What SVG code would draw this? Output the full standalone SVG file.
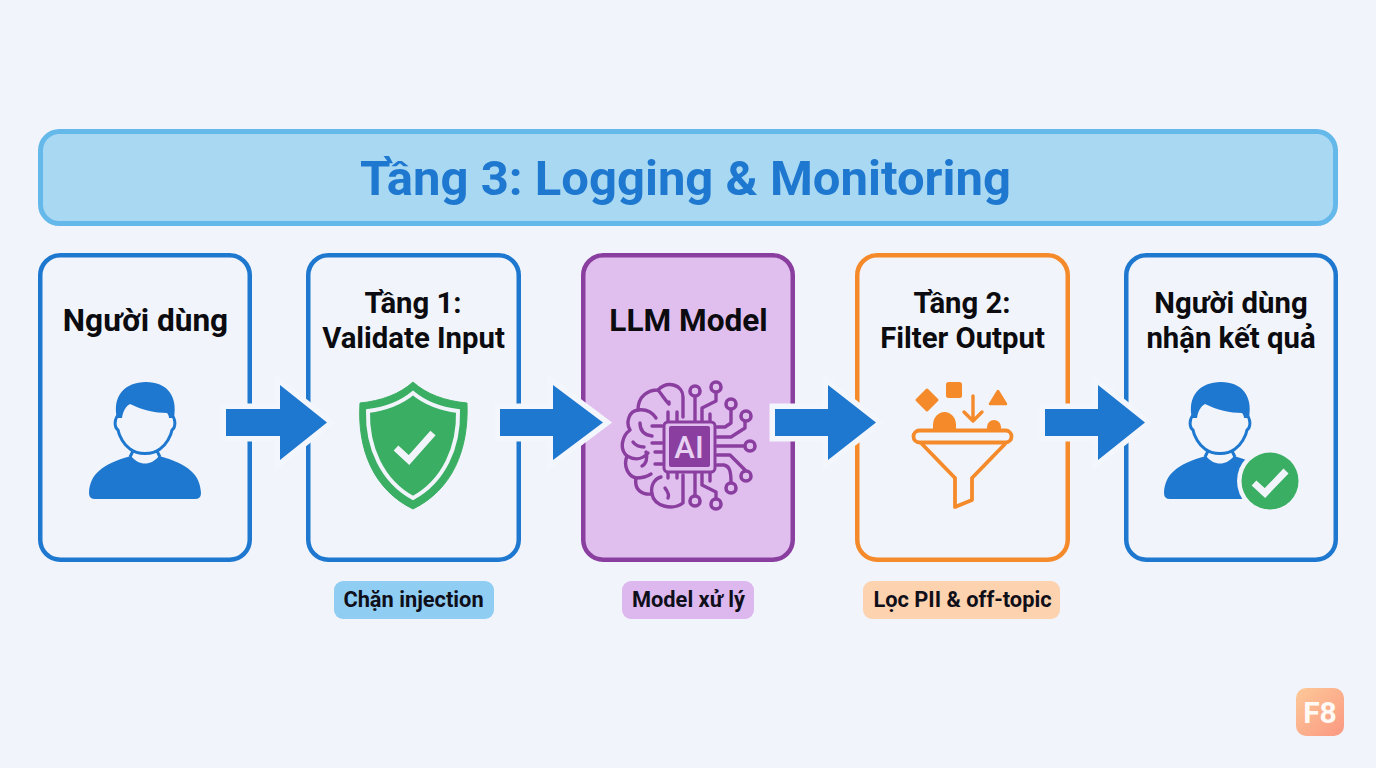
<svg xmlns="http://www.w3.org/2000/svg" width="1376" height="768" viewBox="0 0 1376 768">
<style>
text{font-family:Roboto,"Liberation Sans","Noto Sans",sans-serif;font-weight:700;text-anchor:middle}
.t{font-size:29.300px;fill:#0b0b10}
.tb{font-size:31.600px;fill:#0b0b10}
.p{font-size:21.800px;fill:#0f0f1a}
.card{stroke-width:4.5}
.blue{fill:#f1f5fb;stroke:#1f78cf}
.arrow{fill:#1f78cf;stroke:#f3f6fc;stroke-width:11;paint-order:stroke;stroke-linejoin:miter}
.c{fill:none;stroke:#8a3fa0;stroke-width:3.400;stroke-linecap:round;stroke-linejoin:round}
.n{fill:#e0bfee;stroke:#8a3fa0;stroke-width:3.600}
.o{fill:none;stroke:#f58a2b;stroke-width:3.800;stroke-linejoin:round;stroke-linecap:round}
.of{fill:#f58a2b}
</style>
<defs>
<linearGradient id="badge" x1="0" y1="0" x2="1" y2="1"><stop offset="0" stop-color="#fdc998"/><stop offset="1" stop-color="#fb9882"/></linearGradient>
<g id="person">
<path d="M89 493C90 474 102 464 131 456C135 461 140 463.500 145 463.500C150 463.500 155 461 159 456C188 464 200 474 201 493Q201 499 195 499H95Q89 499 89 493Z" fill="#1f78cf"/>
<path d="M119 414C114 419 114 427 118 430C119 436 124 445 130 449C135 453 140 453.500 145 453.500C150 453.500 155 453 160 449C166 445 171 436 172 430C176 427 176 419 171 414" fill="#f1f5fb" stroke="#1f78cf" stroke-width="3"/>
<path d="M117 418C112 396 125 382 146 382C167 382 178 396 174 418L169 418C169 416 168 414 167 413C155 413 142 410 130 404C126 406 123 411 122 418Z" fill="#1f78cf"/>
<path d="M133 451L130 457M157 451L160 457" stroke="#1f78cf" stroke-width="3" fill="none"/>
</g>
</defs>
<rect width="1376" height="768" fill="#f1f5fb"/>

<g id="banner">
<rect x="40.500" y="131.500" width="1295" height="92" rx="19" fill="#a8d8f2" stroke="#64b8ea" stroke-width="5"/>
<text x="685.500" y="195" style="font-size:49px" fill="#1f78cf">Tầng 3: Logging &amp; Monitoring</text>
</g>

<g id="node-user">
<rect class="card blue" x="40.250" y="255.250" width="209.500" height="304.500" rx="20"/>
<text class="tb" x="145.500" y="331">Người dùng</text>
<use href="#person"/>
</g>

<g id="node-validate">
<rect class="card blue" x="308.250" y="255.250" width="210.500" height="304.500" rx="20"/>
<text class="t" x="413" y="313">Tầng 1:</text>
<text class="t" x="413.500" y="348">Validate Input</text>
<path d="M413 382C426 394 445 401 467 403C469 450 452 490 413 509C374 490 357 450 360 403C381 401 400 394 413 382Z" fill="#3aae62" stroke="#3aae62" stroke-linejoin="round"/>
<path d="M413 393C425 403 442 409 458 411C459 447 444 481 413 498C382 481 367 447 368 411C384 409 401 403 413 393Z" fill="none" stroke="#f1f5fb" stroke-width="4"/>
<path d="M396 448L409 460L433 433" fill="none" stroke="#f1f5fb" stroke-width="7"/>
</g>

<g id="node-llm">
<rect class="card" x="583.250" y="255.250" width="209.500" height="304.500" rx="20" fill="#e0bfee" stroke="#8a3fa0"/>
<text class="tb" x="688.500" y="331">LLM Model</text>
<path class="c" d="M683 417V397C683 385 668 380 658 390C648 390 638 396 638 410C628 411 626 424 630 430C622 436 619 449 627 456C623 466 628 476 636 478C634 490 642 495 652 494C654 506 672 511 683 503V475"/>
<path class="c" d="M658 390C663 396 665 400 669 404L669 402M638 410C646 409 652 412 656 418M640 423C640 431 644 435 652 436M633 442C636 446 640 447 644 447M627 456C634 460 642 460 648 453M646 452C648 458 646 464 642 466M636 478C644 478 648 476 651 474M652 494C650 484 656 478 661 477M665 488C668 492 669 496 668 498"/>
<path class="c" d="M652 426H662M652 443H662M655 452H662M655 464H662M668 421V412M677 421V412M668 472V478M677 472V478"/>
<path class="c" d="M695 421V396M702 421V408L716 401V393M710 421V414M717 427H725L731 423L731 410M717 437H731L745 428V422M717 446H744M717 455H730L745 470M717 465H724C729 466 731 470 731 482M695 473V495M702 473V485L716 492V498M710 473V481"/>
<circle class="n" cx="695" cy="391" r="5"/><circle class="n" cx="716" cy="387" r="5"/><circle class="n" cx="731" cy="404" r="5"/><circle class="n" cx="746" cy="416" r="5"/><circle class="n" cx="750" cy="446" r="5"/><circle class="n" cx="746" cy="476" r="5"/><circle class="n" cx="731" cy="488" r="5"/><circle class="n" cx="716" cy="504" r="5"/><circle class="n" cx="695" cy="501" r="5"/>
<rect x="664" y="422" width="51" height="50" rx="4" fill="#e0bfee" stroke="#8a3fa0" stroke-width="3"/>
<rect x="669" y="426" width="41" height="41" rx="2" fill="#8a3fa0"/>
<text x="689" y="458" style="font-size:31px;font-weight:500" fill="#e8d0f2">AI</text>
</g>

<g id="node-filter">
<rect class="card" x="857.250" y="255.250" width="210.500" height="304.500" rx="20" fill="#f1f5fb" stroke="#f58a2b"/>
<text class="t" x="962" y="313">Tầng 2:</text>
<text class="t" x="962.500" y="348">Filter Output</text>
<path class="of" d="M917 400L927 390L937 400L927 410Z" stroke="#f58a2b" stroke-width="3" stroke-linejoin="round"/>
<rect class="of" x="946" y="382" width="16" height="16" rx="2.500"/>
<path class="of" d="M998 391L1006 404H990Z" stroke="#f58a2b" stroke-width="2.500" stroke-linejoin="round"/>
<path class="o" d="M973 396V420M964 412L973 421L982 412" style="stroke-width:3.400px"/>
<path class="of" d="M933 431V425A11.500 13 0 0 1 956 425V431ZM987 431V427A7 7 0 0 1 1001 427V431Z"/>
<rect class="o" x="913.500" y="430.500" width="98" height="12" rx="6"/>
<path class="o" d="M922 444L955 478V507L972 500V478L1005 444"/>
</g>

<g id="node-result">
<rect class="card blue" x="1126.250" y="255.250" width="209.500" height="304.500" rx="20"/>
<text class="t" x="1231" y="313">Người dùng</text>
<text class="t" x="1231" y="348">nhận kết quả</text>
<use href="#person" x="1075"/>
<circle cx="1270" cy="481" r="33" fill="#f1f5fb"/>
<circle cx="1270" cy="481" r="28.500" fill="#3aae62"/>
<path d="M1254 483L1265 493L1286 471" fill="none" stroke="#f1f5fb" stroke-width="7"/>
</g>

<g id="connectors">
<path class="arrow" d="M226 409H280V385L327 422.500L280 460V436H226Z"/>
<path class="arrow" d="M500 409H553V385L603 422.500L553 460V436H500Z"/>
<path class="arrow" d="M775 409H828V385L876 422.500L828 460V436H775Z"/>
<path class="arrow" d="M1045 409H1098V385L1145 422.500L1098 460V436H1045Z"/>
</g>

<g id="label-inject">
<rect x="334" y="581" width="160" height="38" rx="9" fill="#8fcdf3"/>
<text class="p" x="413.500" y="607">Chặn injection</text>
</g>
<g id="label-model">
<rect x="622" y="581" width="132" height="38" rx="9" fill="#dcb8ee"/>
<text class="p" x="688.500" y="607">Model xử lý</text>
</g>
<g id="label-filter">
<rect x="863" y="581" width="197" height="38" rx="9" fill="#fdd2ae"/>
<text class="p" x="962.500" y="607">Lọc PII &amp; off-topic</text>
</g>

<g id="logo">
<rect x="1296" y="688" width="48" height="48" rx="10" fill="url(#badge)"/>
<text x="1320" y="723" style="font-size:30px" fill="#fffaf5">F8</text>
</g>
</svg>
